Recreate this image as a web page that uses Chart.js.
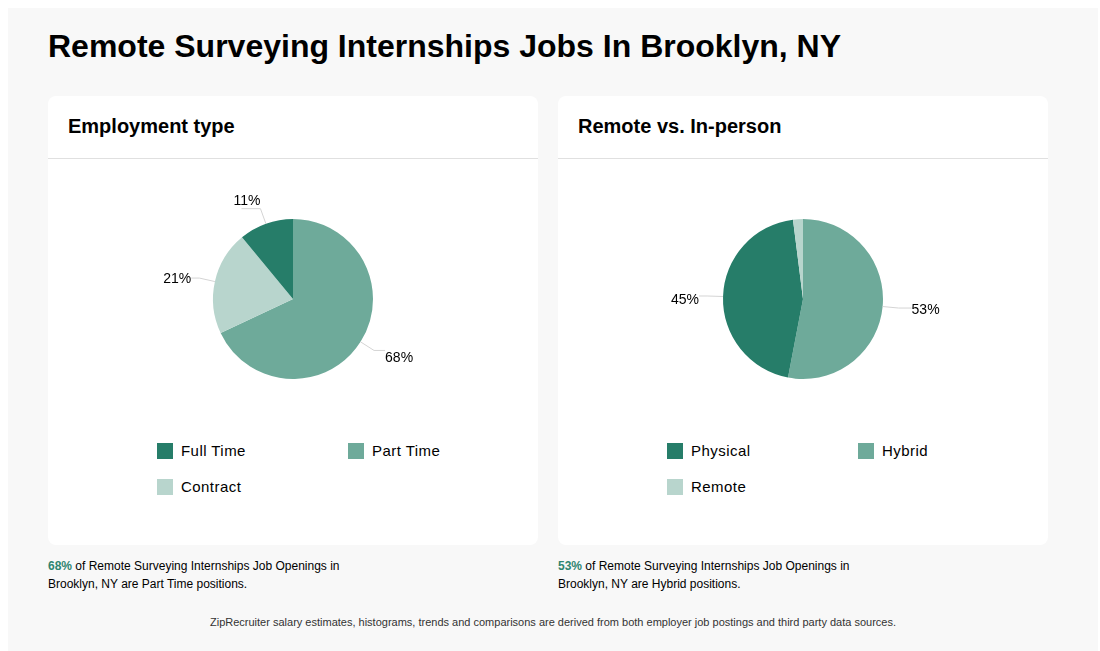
<!DOCTYPE html>
<html>
<head>
<meta charset="utf-8">
<title>Remote Surveying Internships Jobs In Brooklyn, NY</title>
<script src="https://cdn.jsdelivr.net/npm/chart.js@4"></script>
<style>
  html, body { margin: 0; padding: 0; background: #fff; overflow: hidden; }
  body { font-family: "Liberation Sans", Arial, sans-serif; color: #000; }
  #page { position: absolute; left: 8px; top: 8px; width: 1090px; height: 643px; background: #f8f8f8; }
  h1 { position: absolute; left: 40px; top: 19px; margin: 0; font-size: 32px; line-height: 38px; font-weight: bold; }
  .card { position: absolute; top: 88px; width: 490px; height: 449px; background: #fff; border-radius: 8px; }
  .card h2 { margin: 0; height: 62px; border-bottom: 1px solid #e0e0e0; padding-left: 20px;
             font-size: 20px; line-height: 61px; font-weight: bold; }
  .pie { position: absolute; left: 0; top: 63px; width: 490px; height: 280px; }
  .legend { position: absolute; left: 109px; top: 347px; width: 382px; }
  .legend div { position: absolute; width: 191px; height: 16px; font-size: 15px; line-height: 16px; letter-spacing: 0.45px; white-space: nowrap; }
  .legend i { position: absolute; left: 0; top: 0; width: 16px; height: 16px; }
  .legend span { position: absolute; left: 24px; top: 0; }
  .note { position: absolute; top: 549px; width: 320px; font-size: 12px; line-height: 18px; }
  .note b { color: #2f8570; }
  #footer { position: absolute; left: 0; top: 607px; width: 1090px; text-align: center; font-size: 11px; line-height: 14px; color: #333; }
</style>
</head>
<body>
<div id="page">
  <h1>Remote Surveying Internships Jobs In Brooklyn, NY</h1>

  <div class="card" style="left:40px">
    <h2>Employment type</h2>
    <div class="pie"><canvas id="EmploymentChart"></canvas></div>
    <div class="legend" id="EmploymentLegend"></div>
  </div>
  <div class="card" style="left:550px">
    <h2>Remote vs. In-person</h2>
    <div class="pie"><canvas id="RemoteChart"></canvas></div>
    <div class="legend" id="RemoteLegend"></div>
  </div>

  <div class="note" style="left:40px"><b>68%</b> of Remote Surveying Internships Job Openings in Brooklyn, NY are Part Time positions.</div>
  <div class="note" style="left:550px"><b>53%</b> of Remote Surveying Internships Job Openings in Brooklyn, NY are Hybrid positions.</div>
  <div id="footer">ZipRecruiter salary estimates, histograms, trends and comparisons are derived from both employer job postings and third party data sources.</div>
</div>

<script>
// slices run clockwise from 12 o'clock, biggest first
var employment_labels = ["Part Time", "Contract", "Full Time"];
var employment_values = [68, 21, 11];
var employment_legend = ["Full Time", "Part Time", "Contract"];

var remote_labels = ["Hybrid", "Physical", "Remote"];
var remote_values = [53, 45, 2];
var remote_legend = ["Physical", "Hybrid", "Remote"];

var palette = {
    "Full Time": "#267d69", "Part Time": "#6eaa9a", "Contract": "#b8d5cd",
    "Physical": "#267d69", "Hybrid": "#6eaa9a", "Remote": "#b8d5cd"
};

// leader line and percent text next to each slice, small slices get none
var sliceLabels = {
    id: 'sliceLabels',
    afterDatasetsDraw: (chart, args, opts) => {
        let ctx = chart.ctx;
        let values = chart.data.datasets[0].data;
        chart.getDatasetMeta(0).data.forEach((arc, i) => {
            if (values[i] < 5) {
                return;
            }
            let place = opts.places[i];
            let mid = (arc.startAngle + arc.endAngle) / 2;
            let edgeX = arc.x + Math.cos(mid) * arc.outerRadius;
            let edgeY = arc.y + Math.sin(mid) * arc.outerRadius;
            let elbowX = arc.x + Math.cos(mid) * arc.outerRadius * 1.2;
            let elbowY = arc.y + Math.sin(mid) * arc.outerRadius * 1.2;
            let right = Math.cos(mid) > 0;

            ctx.save();
            ctx.beginPath();
            ctx.moveTo(edgeX, edgeY);
            ctx.lineTo(elbowX, elbowY);
            ctx.lineTo(elbowX + place.run, elbowY);
            ctx.lineWidth = 1;
            ctx.strokeStyle = '#d4d4d4';
            ctx.stroke();

            ctx.fillStyle = '#000';
            ctx.font = '14px "Liberation Sans", Arial, sans-serif';
            ctx.textAlign = right ? 'left' : 'right';
            ctx.textBaseline = 'middle';
            ctx.fillText(values[i] + '%', elbowX + place.run + place.dx, elbowY + place.dy);
            ctx.restore();
        });
    }
};

function RenderPie(element_id, labels, values, places) {
    return new Chart(document.getElementById(element_id), {
        type: 'pie',
        plugins: [sliceLabels],
        data: {
            labels: labels,
            datasets: [{
                data: values,
                backgroundColor: labels.map(l => palette[l]),
                borderWidth: 0
            }]
        },
        options: {
            responsive: false,
            animation: false,
            radius: 80,
            plugins: {
                legend: {display: false},
                tooltip: {enabled: false},
                sliceLabels: {places: places}
            }
        }
    });
}

function RenderLegend(element_id, names) {
    let box = document.getElementById(element_id);
    names.forEach((name, i) => {
        let row = document.createElement('div');
        row.style.left = (i % 2) * 191 + 'px';
        row.style.top = Math.floor(i / 2) * 36 + 'px';
        row.innerHTML = '<i style="background:' + palette[name] + '"></i><span>' + name + '</span>';
        box.appendChild(row);
    });
}

function SizeCanvas(element_id) {
    let canvas = document.getElementById(element_id);
    canvas.width = 490;
    canvas.height = 280;
}

SizeCanvas("EmploymentChart");
SizeCanvas("RemoteChart");

RenderPie("EmploymentChart", employment_labels, employment_values, [
    {run: 11, dx: 0, dy: 8},
    {run: -8, dx: 0, dy: 1},
    {run: -19, dx: 19, dy: -8}
]);
RenderPie("RemoteChart", remote_labels, remote_values, [
    {run: 13, dx: 0, dy: 2},
    {run: -8, dx: 0, dy: 4},
    {run: 0, dx: 0, dy: 0}
]);

RenderLegend("EmploymentLegend", employment_legend);
RenderLegend("RemoteLegend", remote_legend);
</script>
</body>
</html>
